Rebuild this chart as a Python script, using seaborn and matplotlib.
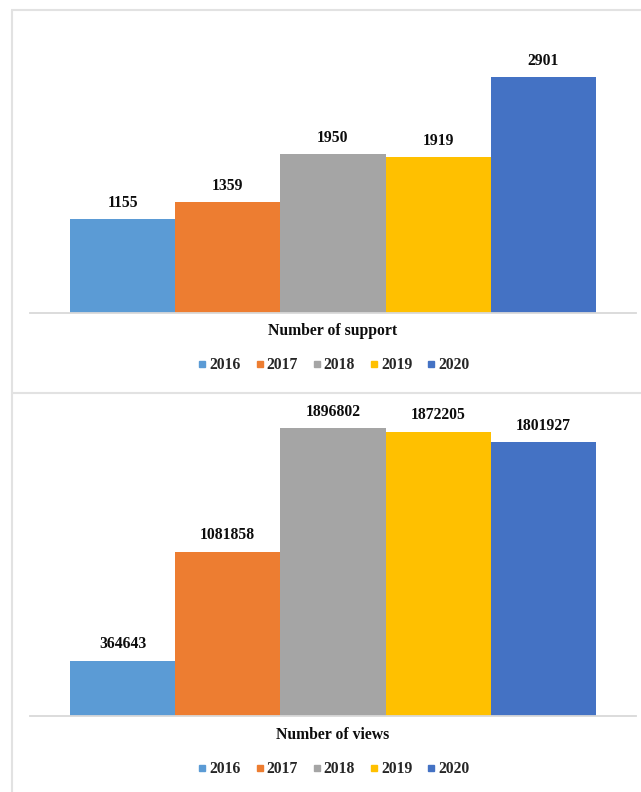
import matplotlib
matplotlib.use("Agg")
import matplotlib.pyplot as plt
from matplotlib.lines import Line2D
import seaborn as sns
import pandas as pd

# Data
years = ["2016", "2017", "2018", "2019", "2020"]
support = [1155, 1359, 1950, 1919, 2901]
views = [364643, 1081858, 1896802, 1872205, 1801927]
panel_titles = ["Number of support", "Number of views"]
colors = ["#5B9BD5", "#ED7D31", "#A5A5A5", "#FFC000", "#4472C4"]

sns.set_theme(style="white")
plt.rcParams["font.family"] = ["Liberation Serif", "DejaVu Serif"]
plt.rcParams["font.weight"] = "bold"

W, H = 641, 792
fig = plt.figure(figsize=(W / 100, H / 100), dpi=100)
fig.patch.set_facecolor("white")

# Background layer in pixel coordinates for the panel frames
bg = fig.add_axes([0, 0, 1, 1], zorder=-10)
bg.set_xlim(0, W)
bg.set_ylim(H, 0)
bg.axis("off")
frame_kw = dict(color="#E2E2E2", lw=1.5, solid_capstyle="butt")
bg.plot([11.8, 11.8], [9.5, H], **frame_kw)
bg.plot([11, W], [9.8, 9.8], **frame_kw)
bg.plot([11, W], [393, 393], **frame_kw)


def px_axes(left, right, baseline, height):
    return fig.add_axes([left / W, (H - baseline) / H, (right - left) / W, height / H])


def draw_panel(values, title, baseline, ymax, height, title_y, legend_y):
    ax = px_axes(30, 636, baseline, height)
    df = pd.DataFrame({"metric": [title] * len(years), "year": years, "value": values})
    sns.barplot(data=df, x="metric", y="value", hue="year", hue_order=years,
                palette=colors, saturation=1, width=526 / 606, gap=0,
                linewidth=0, legend=False, ax=ax)
    ax.set_xlim(-0.5, 0.5)
    ax.set_ylim(0, ymax)
    for cont, v in zip(ax.containers, values):
        ax.bar_label(cont, labels=[f"{v:d}"], padding=6, fontsize=11.3,
                     fontweight="bold", color="#0D0D0D")
    for s in ["top", "left", "right"]:
        ax.spines[s].set_visible(False)
    ax.spines["bottom"].set_color("#D9D9D9")
    ax.spines["bottom"].set_linewidth(1.3)
    ax.set_xticks([])
    ax.set_yticks([])
    ax.set_xlabel("")
    ax.set_ylabel("")
    ax.patch.set_alpha(0)

    fig.text(333 / W, 1 - title_y / H, title, ha="center", va="center",
             fontsize=11.3, fontweight="bold", color="#0D0D0D")
    handles = [Line2D([], [], marker="s", linestyle="none", markersize=4.8,
                      markerfacecolor=c, markeredgecolor=c) for c in colors]
    fig.legend(handles, years, loc="center", bbox_to_anchor=(334 / W, 1 - legend_y / H),
               ncol=5, frameon=False, handlelength=0.5, handletextpad=0.2,
               columnspacing=0.95, prop={"size": 11.3, "weight": "bold"})
    return ax


draw_panel(support, panel_titles[0], baseline=313, ymax=3500,
           height=3500 * 236 / 2901, title_y=331, legend_y=365)
draw_panel(views, panel_titles[1], baseline=716, ymax=2000000,
           height=2000000 * 288 / 1896802, title_y=735, legend_y=769)

fig.savefig("out.png", dpi=100, facecolor="white")
